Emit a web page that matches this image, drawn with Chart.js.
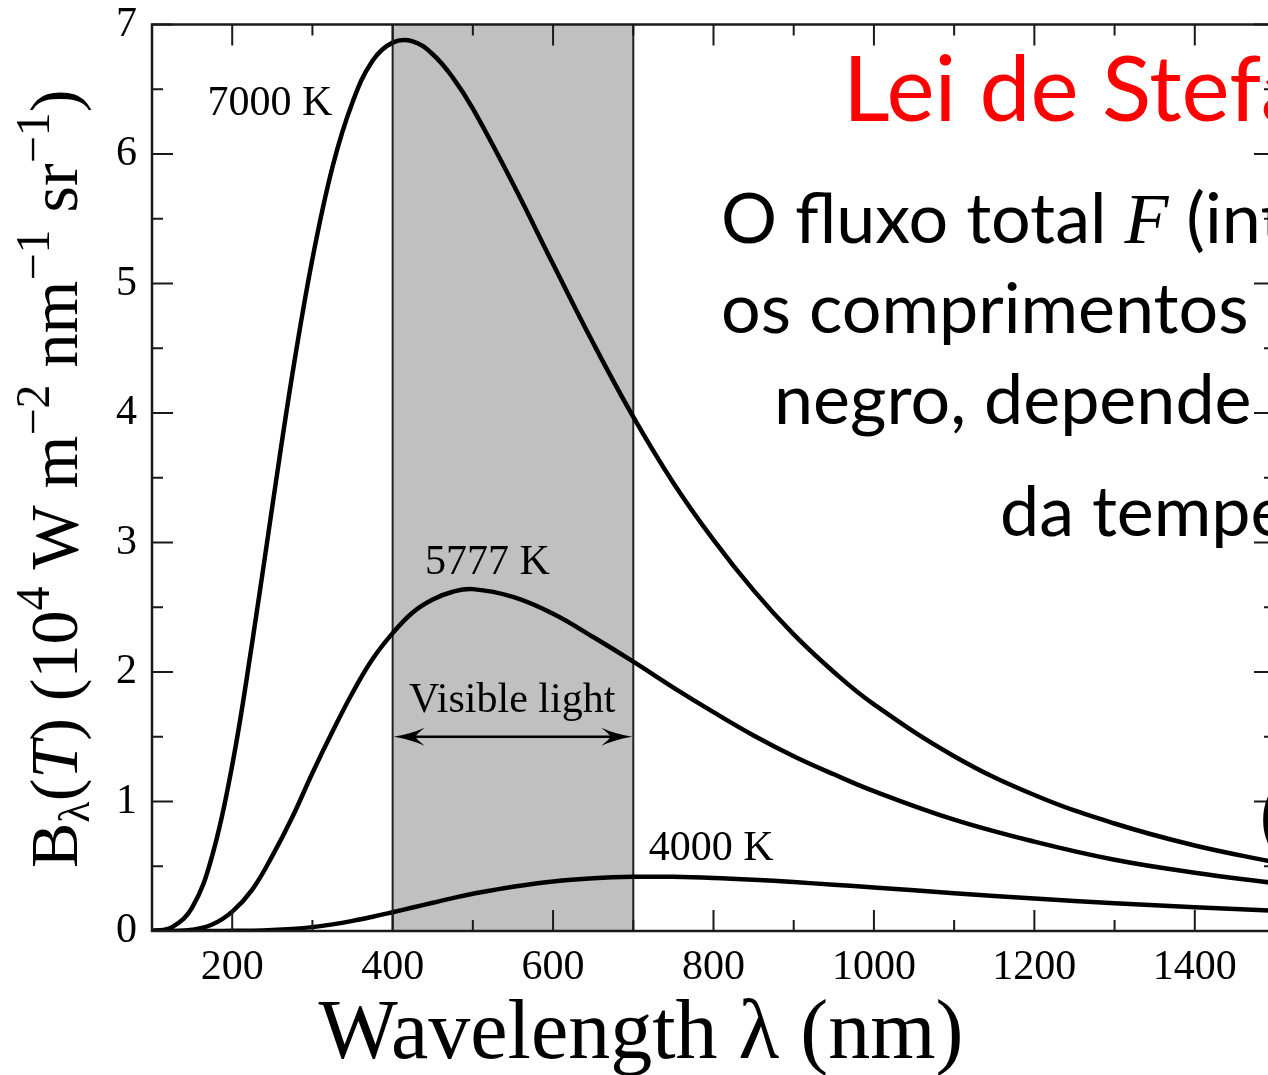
<!DOCTYPE html>
<html>
<head>
<meta charset="utf-8">
<title>Lei de Stefan-Boltzmann</title>
<script src="https://cdn.jsdelivr.net/npm/chart.js@4.4.1/dist/chart.umd.min.js"></script>
<style>
  html, body { margin: 0; padding: 0; background: #fff; }
  #wrap { position: relative; width: 1268px; height: 1075px; overflow: hidden; background: #fff; }
  #planck { display: block; }
</style>
</head>
<body>
<div id="wrap"><canvas id="planck" width="1300" height="1075"></canvas></div>
<script>
// Black-body spectral radiance, in 10^4 W m^-2 nm^-1 sr^-1
const wavelengths = [100, 125, 150, 175, 200, 225, 250, 275, 300, 325, 350, 375, 400, 425, 450, 475,
  500, 550, 600, 650, 700, 750, 800, 850, 900, 950, 1000, 1100, 1200, 1300, 1400, 1500];

const radiance7000 = [0.00, 0.03, 0.18, 0.58, 1.28, 2.23, 3.28, 4.30, 5.19, 5.90, 6.40, 6.72, 6.86, 6.87, 6.77, 6.59,
  6.35, 5.77, 5.15, 4.54, 3.97, 3.46, 3.02, 2.63, 2.29, 2.00, 1.75, 1.35, 1.05, 0.83, 0.66, 0.53];

const radiance5777 = [0.00, 0.00, 0.01, 0.05, 0.15, 0.32, 0.58, 0.88, 1.22, 1.54, 1.84, 2.10, 2.30, 2.46, 2.56, 2.62,
  2.64, 2.58, 2.45, 2.27, 2.08, 1.88, 1.69, 1.51, 1.35, 1.21, 1.08, 0.86, 0.69, 0.55, 0.45, 0.37];

const radiance4000 = [0.000, 0.000, 0.000, 0.000, 0.001, 0.002, 0.007, 0.016, 0.030, 0.051, 0.078, 0.110, 0.145, 0.181, 0.218, 0.254,
  0.287, 0.342, 0.383, 0.407, 0.418, 0.418, 0.410, 0.396, 0.378, 0.357, 0.336, 0.292, 0.251, 0.215, 0.184, 0.157];

const curveNames = ['7000 K', '5777 K', '4000 K'];
const visibleRange = [400, 700];

// text anchors in data units (centre x, baseline y)
const curveTags = [
  { text: '7000 K', x: 247, y: 6.30 },
  { text: '5777 K', x: 518, y: 2.76 },
  { text: '4000 K', x: 797, y: 0.55 }
];
const visibleTag = { text: 'Visible light', x: 549, y: 1.69, arrowY: 1.50 };

const SERIF = '"Liberation Serif", "Times New Roman", serif';
const SANS = 'Lato, "Open Sans", sans-serif';
const serif = (size, style = '') => `${style} ${size}px ${SERIF}`;
const sans = (size, style = '') => `${style} ${size}px ${SANS}`;

// draw a row of text pieces with their own fonts and vertical shifts
const drawRuns = (ctx, runs, x, y) => {
  let cx = x;
  runs.forEach(r => {
    ctx.font = r.font;
    ctx.fillStyle = r.color || '#000';
    ctx.fillText(r.text, cx, y + (r.dy || 0));
    cx += ctx.measureText(r.text).width;
  });
  return cx;
};

const arrowHead = (ctx, tipX, y, dir) => {
  const len = 31, half = 9, notch = 22;
  ctx.beginPath();
  ctx.moveTo(tipX, y);
  ctx.quadraticCurveTo(tipX + dir * len * 0.55, y - half * 0.3, tipX + dir * len, y - half);
  ctx.quadraticCurveTo(tipX + dir * notch, y - half * 0.2, tipX + dir * notch, y);
  ctx.quadraticCurveTo(tipX + dir * notch, y + half * 0.2, tipX + dir * len, y + half);
  ctx.quadraticCurveTo(tipX + dir * len * 0.55, y + half * 0.3, tipX, y);
  ctx.fill();
};

const bandPlugin = {
  id: 'visibleBand',
  beforeDatasetsDraw(chart) {
    const { ctx, chartArea: a, scales: { x } } = chart;
    const x0 = x.getPixelForValue(visibleRange[0]);
    const x1 = x.getPixelForValue(visibleRange[1]);
    ctx.save();
    ctx.fillStyle = '#c0c0c0';
    ctx.fillRect(x0, a.top, x1 - x0, a.bottom - a.top);
    ctx.strokeStyle = '#222';
    ctx.lineWidth = 2;
    ctx.beginPath();
    ctx.moveTo(x0, a.top); ctx.lineTo(x0, a.bottom);
    ctx.moveTo(x1, a.top); ctx.lineTo(x1, a.bottom);
    ctx.stroke();
    ctx.restore();
  }
};

// box round the plot with inward ticks on all four sides
const framePlugin = {
  id: 'frame',
  afterDatasetsDraw(chart) {
    const { ctx, chartArea: a, scales: { x, y } } = chart;
    ctx.save();
    ctx.strokeStyle = '#1a1a1a';
    ctx.lineWidth = 2;
    ctx.beginPath();
    x.ticks.forEach(t => {
      const px = x.getPixelForValue(t.value);
      const len = t.value % 200 === 0 ? 21 : 11;
      ctx.moveTo(px, a.bottom); ctx.lineTo(px, a.bottom - len);
      ctx.moveTo(px, a.top); ctx.lineTo(px, a.top + len);
    });
    y.ticks.forEach(t => {
      const py = y.getPixelForValue(t.value);
      const len = Number.isInteger(t.value) ? 21 : 11;
      ctx.moveTo(a.left, py); ctx.lineTo(a.left + len, py);
      ctx.moveTo(a.right, py); ctx.lineTo(a.right - len, py);
    });
    ctx.stroke();
    ctx.lineWidth = 2.5;
    ctx.strokeRect(a.left, a.top, a.right - a.left, a.bottom - a.top);
    ctx.restore();
  }
};

const notesPlugin = {
  id: 'notes',
  afterDraw(chart) {
    const { ctx, scales: { x, y } } = chart;
    ctx.save();
    ctx.fillStyle = '#000';
    ctx.textBaseline = 'alphabetic';

    // curve names
    ctx.font = serif(42);
    ctx.textAlign = 'center';
    curveTags.forEach(t => ctx.fillText(t.text, x.getPixelForValue(t.x), y.getPixelForValue(t.y)));

    // visible light label and double arrow
    ctx.fillText(visibleTag.text, x.getPixelForValue(visibleTag.x), y.getPixelForValue(visibleTag.y));
    const ax0 = x.getPixelForValue(visibleRange[0]);
    const ax1 = x.getPixelForValue(visibleRange[1]);
    const ay = y.getPixelForValue(visibleTag.arrowY);
    ctx.strokeStyle = '#000';
    ctx.lineWidth = 2.5;
    ctx.beginPath();
    ctx.moveTo(ax0 + 10, ay); ctx.lineTo(ax1 - 10, ay);
    ctx.stroke();
    arrowHead(ctx, ax0 + 1, ay, 1);
    arrowHead(ctx, ax1 - 1, ay, -1);

    // axis titles
    ctx.textAlign = 'center';
    ctx.font = serif(84);
    ctx.fillText('Wavelength λ (nm)', 641, 1058);

    ctx.textAlign = 'left';
    ctx.save();
    ctx.translate(77, 868);
    ctx.rotate(-Math.PI / 2);
    drawRuns(ctx, [
      { text: 'B', font: serif(68) },
      { text: 'λ', font: serif(44), dy: 12 },
      { text: '(', font: serif(68) },
      { text: 'T', font: serif(68, 'italic') },
      { text: ') (10', font: serif(68) },
      { text: '4', font: serif(48), dy: -28 },
      { text: ' W m', font: serif(68) },
      { text: '−2', font: serif(48), dy: -28 },
      { text: ' nm', font: serif(68) },
      { text: '−1', font: serif(48), dy: -28 },
      { text: ' sr', font: serif(68) },
      { text: '−1', font: serif(48), dy: -28 },
      { text: ')', font: serif(68) }
    ], 0, 0);
    ctx.restore();

    // slide text laid over the plot
    drawRuns(ctx, [{ text: 'Lei de Stefan-Boltzmann', font: sans(91), color: '#ff0000' }], 843, 121);
    drawRuns(ctx, [
      { text: 'O fluxo total ', font: sans(70) },
      { text: 'F', font: serif(72, 'italic') },
      { text: ' (integrado sobre todos', font: sans(70) }
    ], 721, 243);
    drawRuns(ctx, [{ text: 'os comprimentos de onda) de um corpo', font: sans(70) }], 721, 333);
    drawRuns(ctx, [{ text: 'negro, depende apenas', font: sans(70) }], 774, 424);
    drawRuns(ctx, [{ text: 'da temperatura:', font: sans(70) }], 1000, 536);
    drawRuns(ctx, [{ text: '(σ = 5,67 × 10⁻⁸ W m⁻² K⁻⁴)', font: sans(70) }], 1260, 842);
    ctx.restore();
  }
};

const tickFont = { family: SERIF, size: 42, lineHeight: 1 };

new Chart(document.getElementById('planck'), {
  type: 'line',
  data: {
    datasets: [radiance7000, radiance5777, radiance4000].map((vals, i) => ({
      label: curveNames[i],
      data: wavelengths.map((w, j) => ({ x: w, y: vals[j] })),
      borderColor: '#000',
      borderWidth: 4.5,
      pointRadius: 0,
      fill: false,
      tension: 0.4
    }))
  },
  options: {
    responsive: false,
    animation: false,
    devicePixelRatio: 1,
    layout: { padding: { top: 24.5, right: 25, left: 0, bottom: 0 } },
    plugins: { legend: { display: false }, tooltip: { enabled: false } },
    scales: {
      x: {
        type: 'linear',
        min: 100,
        max: 1500,
        grid: { display: false, drawTicks: false },
        border: { display: false },
        ticks: {
          stepSize: 100,
          autoSkip: false,
          maxRotation: 0,
          padding: 16,
          color: '#000',
          font: tickFont,
          callback: v => (v % 200 === 0 && v < 1500 ? String(v) : '')
        },
        afterFit: s => { s.height = 144; s.paddingLeft = 0; s.paddingRight = 0; }
      },
      y: {
        type: 'linear',
        min: 0,
        max: 7,
        grid: { display: false, drawTicks: false },
        border: { display: false },
        ticks: {
          stepSize: 0.5,
          autoSkip: false,
          padding: 15,
          color: '#000',
          font: tickFont,
          callback: v => (Number.isInteger(v) ? String(v) : '')
        },
        afterFit: s => { s.width = 152; s.paddingTop = 0; s.paddingBottom = 0; }
      }
    }
  },
  plugins: [bandPlugin, framePlugin, notesPlugin]
});
</script>
</body>
</html>
